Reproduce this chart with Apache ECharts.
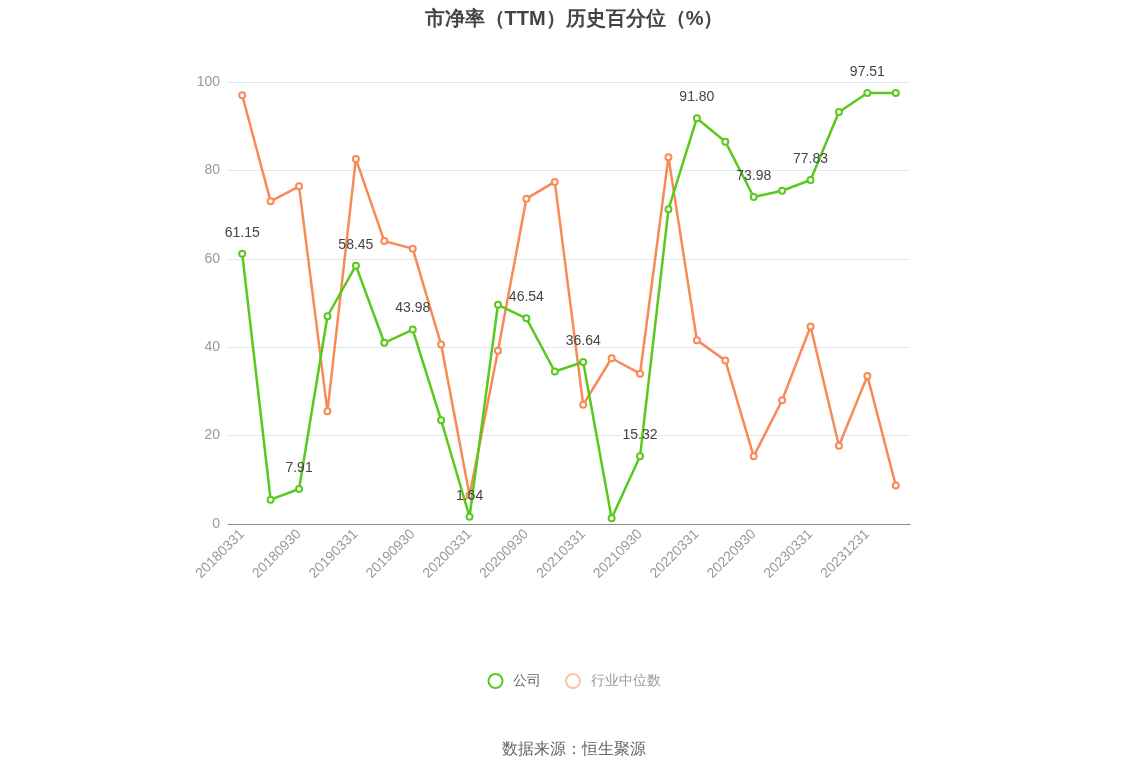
<!DOCTYPE html>
<html lang="en">
<head>
    <meta charset="UTF-8">
    <title>市净率历史百分位</title>
    <script src="https://cdn.jsdelivr.net/npm/echarts@6/dist/echarts.min.js"></script>
    <style>
        body { margin: 0; background: #fff; }
        #chart { width: 1148px; height: 776px; }
    </style>
</head>
<body>
<div id="chart"></div>
<script>
    let categories = ['20180331', '20180630', '20180930', '20181231', '20190331', '20190630', '20190930', '20191231',
        '20200331', '20200630', '20200930', '20201231', '20210331', '20210630', '20210930', '20211231',
        '20220331', '20220630', '20220930', '20221231', '20230331', '20230630', '20231231', '20240331'];
    let company = [61.15, 5.5, 7.91, 47.0, 58.45, 41.0, 43.98, 23.5, 1.64, 49.6, 46.54, 34.5,
        36.64, 1.3, 15.32, 71.2, 91.80, 86.5, 73.98, 75.4, 77.83, 93.2, 97.51, 97.5];
    let industry = [97.0, 73.0, 76.4, 25.5, 82.6, 64.0, 62.3, 40.6, 6.5, 39.2, 73.6, 77.4, 27.0,
        37.5, 34.0, 83.0, 41.6, 37.0, 15.3, 28.0, 44.7, 17.7, 33.5, 8.7];

    let myChart = echarts.init(document.getElementById('chart'));
    let option = {
        title: {
            text: '市净率（TTM）历史百分位（%）',
            left: 'center',
            top: 4,
            textStyle: {color: '#444', fontSize: 20, fontWeight: 'bold'}
        },
        legend: {
            bottom: 82,
            itemGap: 24,
            textStyle: {color: '#666', fontSize: 14},
            data: [
                {name: '公司', icon: 'emptyCircle'},
                {name: '行业中位数', icon: 'emptyCircle', itemStyle: {opacity: 0.5}, textStyle: {color: '#999'}}
            ]
        },
        graphic: [{
            type: 'text', left: 'center', bottom: 18,
            style: {text: '数据来源：恒生聚源', fill: '#666', fontSize: 16}
        }],
        grid: {left: 228, right: 238, top: 82, bottom: 252},
        xAxis: {
            type: 'category',
            data: categories,
            axisLine: {lineStyle: {color: '#8c8c9c'}},
            axisTick: {alignWithLabel: true, lineStyle: {color: '#8c8c9c'}},
            axisLabel: {rotate: 45, interval: 1, color: '#999', fontSize: 14}
        },
        yAxis: {
            type: 'value', min: 0, max: 100, interval: 20,
            axisLabel: {color: '#999', fontSize: 14},
            splitLine: {lineStyle: {color: '#e3e7ef'}}
        },
        series: [{
            name: '公司',
            type: 'line',
            data: company,
            color: '#5ac91e',
            symbol: 'emptyCircle',
            symbolSize: 6,
            lineStyle: {width: 2.5},
            label: {
                show: true, position: 'top', distance: 10, color: '#444', fontSize: 14,
                formatter: p => p.dataIndex % 2 === 0 ? p.value.toFixed(2) : ''
            },
            z: 3
        }, {
            name: '行业中位数',
            type: 'line',
            data: industry,
            color: '#f78a56',
            symbol: 'emptyCircle',
            symbolSize: 6,
            lineStyle: {width: 2.5},
            z: 2
        }]
    };
    myChart.setOption(option);
</script>
</body>
</html>
